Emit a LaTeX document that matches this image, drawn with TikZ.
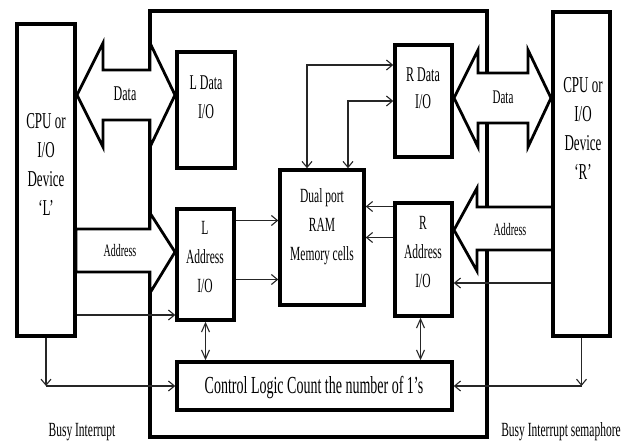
\documentclass[tikz,border=0pt]{standalone}
\usepackage{fontspec}
\setmainfont{Liberation Serif}
\usepackage{graphicx}
\usetikzlibrary{arrows.meta}

% text of the scan is tall and narrow
\newcommand{\talltext}[1]{\scalebox{1}[1.75]{\begin{tabular}{@{}c@{}}#1\end{tabular}}}

\tikzset{
  box/.style={draw,line width=3.5pt,inner sep=0pt,fill=white},
  frame/.style={line width=3.5pt},
  blockarrow/.style={draw,line width=2.8pt,fill=white},
  link/.style={->,line width=1.1pt,draw=black!85},
  lbl/.style={inner sep=0pt,font=\fontsize{11.5}{16.5}\selectfont},
}

\begin{document}
\begin{tikzpicture}[x=1pt,y=-1pt,>={Straight Barb[length=6pt,width=10pt]}]
  \useasboundingbox (0,0) rectangle (633,441);
  % outer frame of the dual port chip
  \draw[frame] (150,11) rectangle (487,437);
  % wide data and address arrows
  \draw[blockarrow] (77,95) -- (103,43) -- (103,70) -- (150,70) -- (150,43) -- (175,95)
    -- (150,147) -- (150,120) -- (103,120) -- (103,147) -- cycle;
  \draw[blockarrow] (454,98) -- (478,50) -- (478,73) -- (528,73) -- (528,50) -- (551,98)
    -- (528,147) -- (528,123) -- (478,123) -- (478,147) -- cycle;
  \draw[blockarrow] (76,229) -- (150,229) -- (150,213) -- (175,252) -- (150,293)
    -- (150,272) -- (76,272) -- cycle;
  \draw[blockarrow] (553,207) -- (477,207) -- (477,188) -- (454,230) -- (477,271)
    -- (477,250) -- (553,250) -- cycle;
  % blocks
  \node[box,minimum width=58pt,minimum height=312pt] (cpuL) at (46,180) {};
  \node[box,minimum width=57pt,minimum height=324pt] (cpuR) at (581.5,174) {};
  \node[box,minimum width=58pt,minimum height=116pt] (ldata) at (206,110) {};
  \node[box,minimum width=57pt,minimum height=112pt] (rdata) at (423.5,101) {};
  \node[box,minimum width=84pt,minimum height=135pt] (ram) at (322,237.5) {};
  \node[box,minimum width=57pt,minimum height=111pt] (laddr) at (205.5,264.5) {};
  \node[box,minimum width=57pt,minimum height=113pt] (raddr) at (423.5,259.5) {};
  \node[box,minimum width=275pt,minimum height=48pt] (ctrl) at (314.5,386) {};
  % connections
  \draw[link,<->] ([xshift=-15pt]ram.north) |- ([yshift=36pt]rdata.west);
  \draw[link,<->] ([xshift=26pt]ram.north) |- (rdata.west);
  \coordinate (la1) at ([yshift=44pt]laddr.east);
  \coordinate (la2) at ([yshift=-15pt]laddr.east);
  \draw[link] (la1) -- (la1 -| ram.west);
  \draw[link] (la2) -- (la2 -| ram.west);
  \coordinate (ra1) at ([yshift=53pt]raddr.west);
  \coordinate (ra2) at ([yshift=22pt]raddr.west);
  \draw[link] (ra1) -- (ra1 -| ram.east);
  \draw[link] (ra2) -- (ra2 -| ram.east);
  \coordinate (lc) at ([yshift=-135pt]cpuL.east);
  \coordinate (rc) at ([yshift=-109pt]cpuR.west);
  \draw[link] (lc) -- (lc -| laddr.west);
  \draw[link] (rc) -- (rc -| raddr.east);
  \coordinate (lb) at (cpuL.south |- ctrl.west);
  \coordinate (rb) at (cpuR.south |- ctrl.east);
  \draw[link] (cpuL.south) -- (lb);
  \draw[link] (lb) -- (ctrl.west);
  \draw[link] (cpuR.south) -- (rb);
  \draw[link] (rb) -- (ctrl.east);
  \draw[link,{Straight Barb[length=9pt,width=8pt]}-{Straight Barb[length=9pt,width=8pt]}]
    (laddr.south) -- (laddr.south |- ctrl.north);
  \draw[link,{Straight Barb[length=9pt,width=8pt]}-{Straight Barb[length=9pt,width=8pt]}]
    ([xshift=-3pt]raddr.south) -- ([xshift=-3pt]raddr.south |- ctrl.north);
  % texts
  \node[lbl,font=\fontsize{13}{16.5}\selectfont] (cpuLt) at (46,166) {\talltext{CPU or\\I/O\\Device\\`L'}};
  \node[lbl,font=\fontsize{13}{16.5}\selectfont] (cpuRt) at (583,130) {\talltext{CPU or\\I/O\\Device\\`R'}};
  \node[lbl,font=\fontsize{12}{17}\selectfont] (ldatat) at (206,98) {\talltext{L Data\\I/O}};
  \node[lbl,font=\fontsize{12}{15.5}\selectfont] (rdatat) at (423,90) {\talltext{R Data\\I/O}};
  \node[lbl] (ramt) at (322,226) {\talltext{Dual port\\RAM\\Memory cells}};
  \node[lbl] (laddrt) at (205,258) {\talltext{L\\Address\\I/O}};
  \node[lbl] (raddrt) at (423,253) {\talltext{R\\Address\\I/O}};
  \node[lbl,font=\fontsize{14}{17}\selectfont] (ctrlt) at (314,388) {\talltext{Control Logic Count the number of 1's}};
  \node[lbl,font=\fontsize{12}{16}\selectfont] (datal) at (125,95) {\talltext{Data}};
  \node[lbl,font=\fontsize{11}{16}\selectfont] (datar) at (503,98) {\talltext{Data}};
  \node[lbl,font=\fontsize{10}{14}\selectfont] (addrl) at (120,252) {\talltext{Address}};
  \node[lbl,font=\fontsize{10}{14}\selectfont] (addrr) at (510,231) {\talltext{Address}};
  \node[lbl] (busyl) at (82,431) {\talltext{Busy Interrupt}};
  \node[lbl] (busyr) at (561,431) {\talltext{Busy Interrupt semaphore}};
\end{tikzpicture}
\end{document}
